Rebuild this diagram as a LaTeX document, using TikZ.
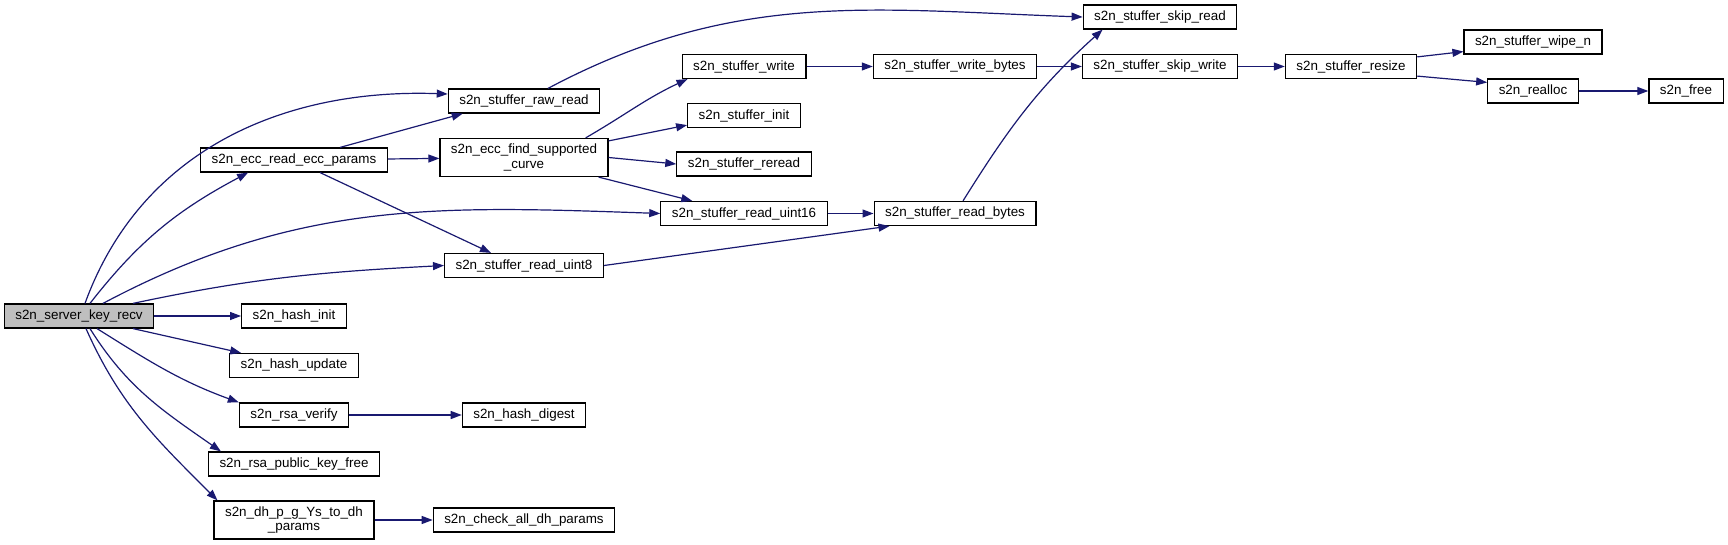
\documentclass[tikz,border=0pt]{standalone}
\usepackage{fontspec}
\setmainfont{Liberation Sans}
\usetikzlibrary{arrows.meta}

\definecolor{edgeblue}{RGB}{25,25,112}
\definecolor{rootgray}{RGB}{191,191,191}
\tikzset{
  fn/.style={draw,line width=1.2,fill=white,inner xsep=11,inner ysep=0pt,minimum height=24,align=center,
    font=\fontsize{13.4}{14.5}\selectfont},
  fn2/.style={fn,minimum height=38},
  call/.style={draw=edgeblue,line width=1.2,-{Triangle[length=11,width=8]}}
}

\begin{document}
\begin{tikzpicture}[x=1pt,y=-1pt]
\useasboundingbox (0,0) rectangle (1728,545);
\node[fn,fill=rootgray] (recv) at (79,316) {s2n\_server\_key\_recv};
\node[fn] (eccread) at (294,160) {s2n\_ecc\_read\_ecc\_params};
\node[fn] (hashinit) at (294,316) {s2n\_hash\_init};
\node[fn] (hashupdate) at (294,365.5) {s2n\_hash\_update};
\node[fn] (rsaverify) at (294,415) {s2n\_rsa\_verify};
\node[fn] (keyfree) at (294,464) {s2n\_rsa\_public\_key\_free};
\node[fn2] (dhparams) at (294,520) {s2n\_dh\_p\_g\_Ys\_to\_dh\\\_params};
\node[fn] (rawread) at (524,101) {s2n\_stuffer\_raw\_read};
\node[fn2] (findcurve) at (524,157.5) {s2n\_ecc\_find\_supported\\\_curve};
\node[fn] (uint8) at (524,265.5) {s2n\_stuffer\_read\_uint8};
\node[fn] (hashdigest) at (524,415) {s2n\_hash\_digest};
\node[fn] (checkdh) at (524,520) {s2n\_check\_all\_dh\_params};
\node[fn] (write) at (744,66.5) {s2n\_stuffer\_write};
\node[fn] (init) at (744,115.5) {s2n\_stuffer\_init};
\node[fn] (reread) at (744,164) {s2n\_stuffer\_reread};
\node[fn] (uint16) at (744,213.5) {s2n\_stuffer\_read\_uint16};
\node[fn] (writebytes) at (955,66.5) {s2n\_stuffer\_write\_bytes};
\node[fn] (readbytes) at (955,213.5) {s2n\_stuffer\_read\_bytes};
\node[fn] (skipread) at (1160,17) {s2n\_stuffer\_skip\_read};
\node[fn] (skipwrite) at (1160,66.5) {s2n\_stuffer\_skip\_write};
\node[fn] (resize) at (1351,66.5) {s2n\_stuffer\_resize};
\node[fn] (wipe) at (1533,42) {s2n\_stuffer\_wipe\_n};
\node[fn] (realloc) at (1533,91) {s2n\_realloc};
\node[fn] (free) at (1686,91) {s2n\_free};

\draw[call] ([xshift=6]recv.north) to[out=70,in=178] ([yshift=7]rawread.west);
\draw[call] ([xshift=11]recv.north) to[out=52,in=208] ([xshift=48]eccread.south west);
\draw[call] ([xshift=24]recv.north) to[out=28,in=178] (uint16.west);
\draw[call] ([xshift=54]recv.north) to[out=12,in=183] (uint8.west);
\draw[call] (recv) -- (hashinit);
\draw[call] ([xshift=54]recv.south) -- ([xshift=12]hashupdate.north west);
\draw[call] ([xshift=18]recv.south) to[out=-32,in=160] (rsaverify.north west);
\draw[call] ([xshift=11]recv.south) to[out=-58,in=145] ([xshift=13]keyfree.north west);
\draw[call] ([xshift=7]recv.south) to[out=-66,in=135] ([xshift=4]dhparams.north west);
\draw[call] ([xshift=140]eccread.north west) -- ([xshift=15]rawread.south west);
\draw[call] (eccread) -- (findcurve);
\draw[call] ([xshift=120]eccread.south west) -- ([xshift=47]uint8.north west);
\draw[call] ([xshift=-23]findcurve.north east) to[out=30,in=205] ([xshift=6]write.south west);
\draw[call] ([yshift=-3]findcurve.north east) -- ([yshift=3]init.south west);
\draw[call] (findcurve.east) -- (reread.west);
\draw[call] ([xshift=-10]findcurve.south east) -- ([xshift=32]uint16.north west);
\draw[call] ([xshift=24]rawread.north) to[out=28,in=178] (skipread.west);
\draw[call] (write) -- (writebytes);
\draw[call] (writebytes) -- (skipwrite);
\draw[call] (skipwrite) -- (resize);
\draw[call] ([yshift=-3]resize.north east) -- ([yshift=3]wipe.south west);
\draw[call] ([yshift=3]resize.south east) -- ([yshift=-4]realloc.north west);
\draw[call] (realloc) -- (free);
\draw[call] (uint16) -- (readbytes);
\draw[call] (uint8.east) -- ([xshift=16]readbytes.south west);
\draw[call] ([xshift=8]readbytes.north) to[out=58,in=222] ([xshift=20]skipread.south west);
\draw[call] (rsaverify) -- (hashdigest);
\draw[call] (dhparams) -- (checkdh);
\end{tikzpicture}
\end{document}
